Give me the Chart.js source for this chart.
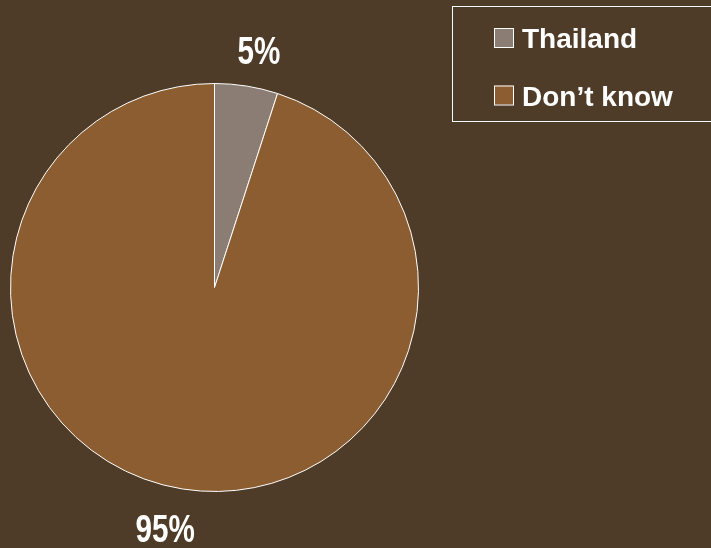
<!DOCTYPE html>
<html><head><meta charset="utf-8">
<script src="https://cdn.jsdelivr.net/npm/chart.js@4/dist/chart.umd.min.js"></script>
<style>html,body{margin:0;padding:0;background:#4f3c28;}canvas{display:block;}</style>
</head><body>
<canvas id="c" width="711" height="548"></canvas>
<script>
const categories = ["Thailand", "Don\u2019t know"];
const values = [5, 95];
const percentLabels = ["5%", "95%"];
const colors = ["#8c7d74", "#8b5d31"];

const labelPlugin = {
  id: 'labels',
  afterDraw(chart) {
    const ctx = chart.ctx;
    const meta = chart.getDatasetMeta(0);
    ctx.save();
    ctx.fillStyle = '#ffffff';
    ctx.textAlign = 'center';
    ctx.textBaseline = 'middle';
    ctx.font = 'bold 38px "Liberation Sans", sans-serif';
    meta.data.forEach((arc, i) => {
      const mid = (arc.startAngle + arc.endAngle) / 2;
      const r = arc.outerRadius + 38;
      const x = arc.x + Math.cos(mid) * r + (Math.cos(mid) >= 0 ? 9 : -9) - 2.5;
      const y = arc.y + Math.sin(mid) * r + 5;
      ctx.save();
      ctx.translate(x, y);
      ctx.scale(0.78, 1);
      ctx.fillText(percentLabels[i], 0, 0);
      ctx.restore();
    });
    // legend
    ctx.strokeStyle = '#ffffff';
    ctx.lineWidth = 1;
    ctx.strokeRect(452.5, 6.5, 270, 115);
    ctx.font = 'bold 28px "Liberation Sans", sans-serif';
    ctx.textAlign = 'left';
    ctx.textBaseline = 'alphabetic';
    categories.forEach((c, i) => {
      const y = 28 + i * 57.5;
      ctx.fillStyle = colors[i];
      ctx.fillRect(494, y, 19, 19);
      ctx.strokeStyle = '#ffffff';
      ctx.strokeRect(494.5, y + 0.5, 19, 19);
      ctx.fillStyle = '#ffffff';
      ctx.fillText(c, 522, y + 20);
    });
    ctx.restore();
  }
};

new Chart(document.getElementById('c'), {
  type: 'pie',
  data: {
    labels: categories,
    datasets: [{
      data: values,
      backgroundColor: colors,
      borderColor: '#ffffff',
      borderWidth: 1,
      hoverOffset: 0
    }]
  },
  options: {
    responsive: false,
    animation: false,
    layout: { padding: { left: 10, right: 292, top: 83, bottom: 56 } },
    plugins: { legend: { display: false }, tooltip: { enabled: false } }
  },
  plugins: [labelPlugin]
});
</script>
</body></html>
